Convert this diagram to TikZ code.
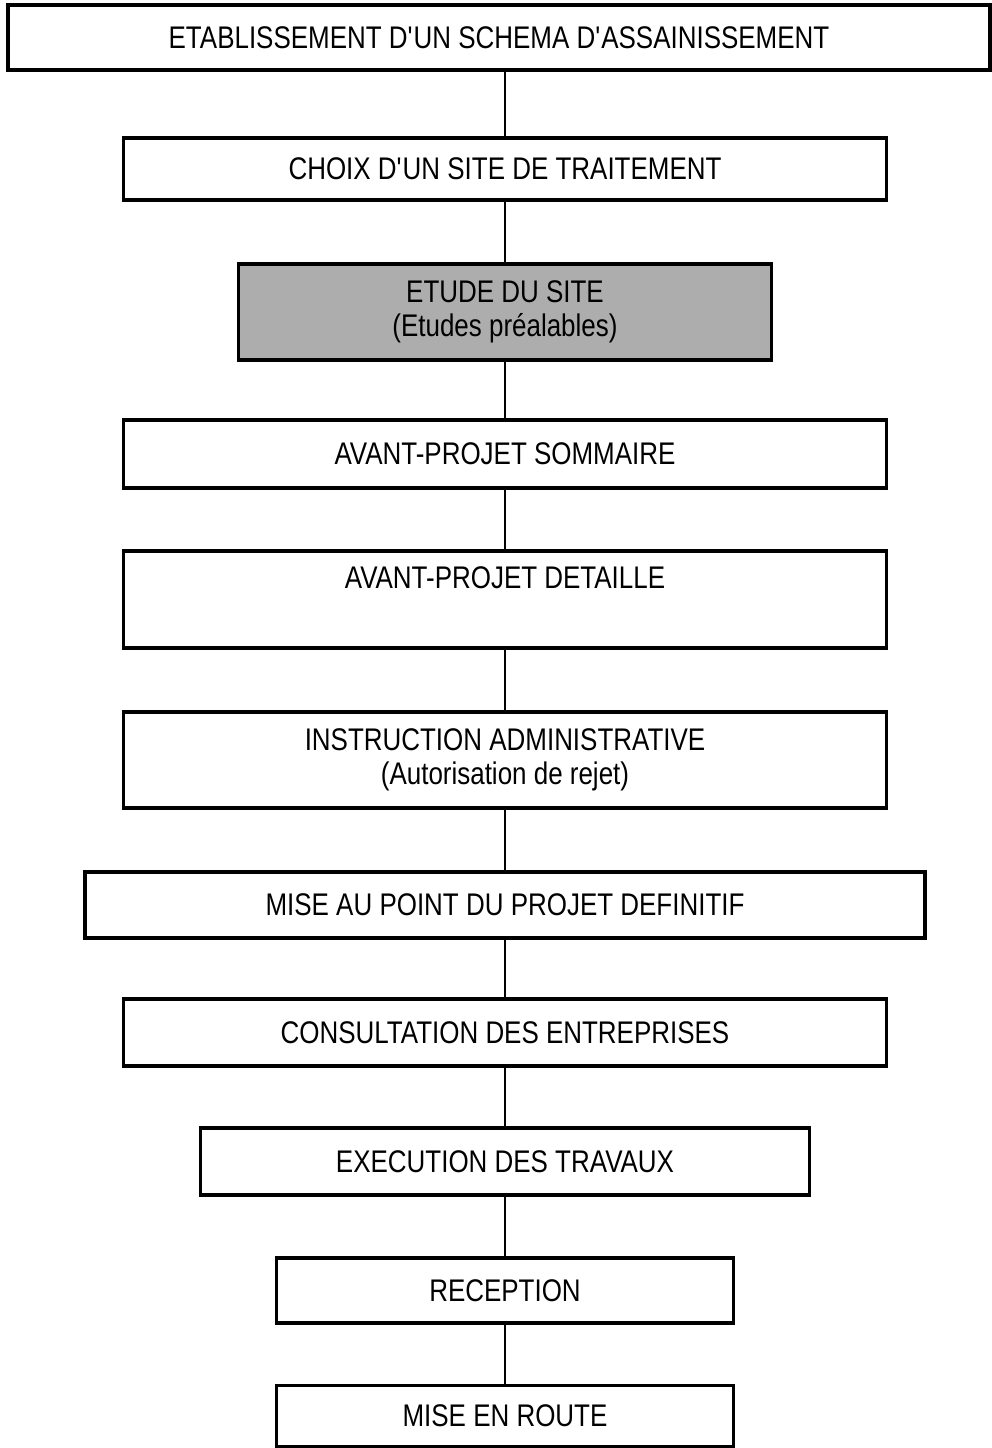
\documentclass[tikz,border=0pt]{standalone}
\usepackage{fontspec}
\setmainfont{Liberation Sans}[FakeStretch=0.83]
\usepackage{tikz}
\usetikzlibrary{positioning}

\begin{document}
\begin{tikzpicture}[
    x=0.2mm, y=-0.2mm,
    box/.style={draw, line width=2.1pt, fill=white, inner sep=0pt, align=center,
        font=\fontsize{17.8}{19}\selectfont},
    shaded/.style={box, fill=black!32},
    link/.style={line width=1.4pt}
]
    \useasboundingbox (0,0) rectangle (992,1448);

    % Top of the chain
    \node[box, minimum width=982*0.2mm, minimum height=65*0.2mm] (schema) at (499, 37.5)
        {ETABLISSEMENT D\textquotesingle UN SCHEMA D\textquotesingle ASSAINISSEMENT};
    \node[box, minimum width=763*0.2mm, minimum height=62*0.2mm] (choix) at (505, 169)
        {CHOIX D\textquotesingle UN SITE DE TRAITEMENT};
    \node[shaded, minimum width=533*0.2mm, minimum height=96*0.2mm] (etude) at (505, 312)
        {ETUDE DU SITE\\(Etudes préalables)};

    % Projet
    \node[box, minimum width=763*0.2mm, minimum height=68*0.2mm] (aps) at (505, 454)
        {AVANT-PROJET SOMMAIRE};
    \node[box, minimum width=763*0.2mm, minimum height=97*0.2mm] (apd) at (505, 599.5)
        {AVANT-PROJET DETAILLE\\ \strut};
    \node[box, minimum width=763*0.2mm, minimum height=96*0.2mm] (instr) at (505, 760)
        {INSTRUCTION ADMINISTRATIVE\\(Autorisation de rejet)};
    \node[box, minimum width=840*0.2mm, minimum height=66*0.2mm] (defin) at (505, 905)
        {MISE AU POINT DU PROJET DEFINITIF};

    % Travaux
    \node[box, minimum width=763*0.2mm, minimum height=67*0.2mm] (consult) at (505, 1032.5)
        {CONSULTATION DES ENTREPRISES};
    \node[box, minimum width=609*0.2mm, minimum height=67*0.2mm] (exec) at (505, 1161.5)
        {EXECUTION DES TRAVAUX};
    \node[box, minimum width=457*0.2mm, minimum height=65*0.2mm] (recep) at (505, 1290.5)
        {RECEPTION};
    \node[box, minimum width=457*0.2mm, minimum height=61*0.2mm] (route) at (505, 1416)
        {MISE EN ROUTE};

    % Links
    \draw[link] (schema.south -| choix.north) -- (choix.north);
    \foreach \a/\b in {choix/etude, etude/aps, aps/apd, apd/instr, instr/defin,
                       defin/consult, consult/exec, exec/recep, recep/route}
        \draw[link] (\a.south) -- (\b.north);
\end{tikzpicture}
\end{document}
